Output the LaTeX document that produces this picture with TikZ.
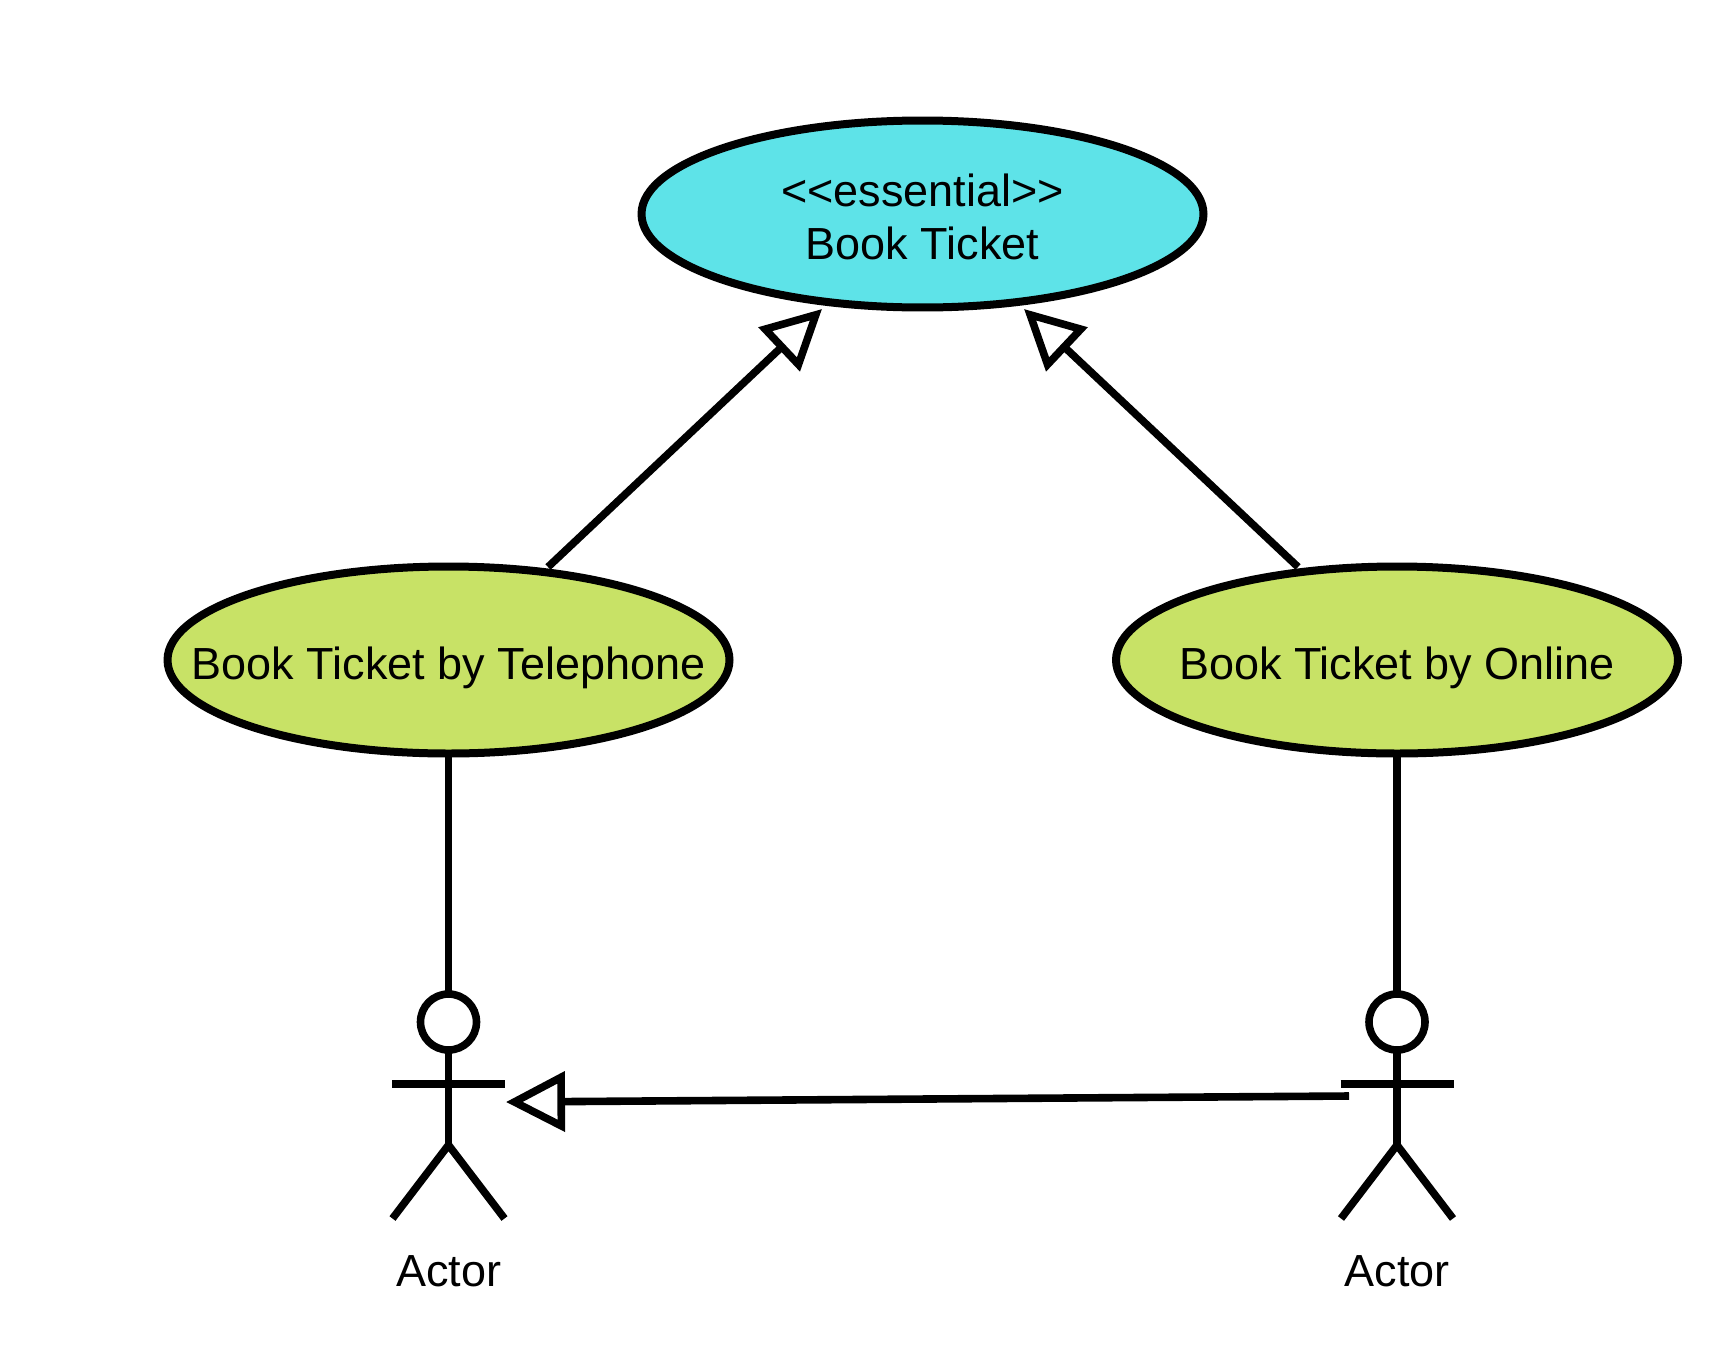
\documentclass[tikz,border=0pt]{standalone}
\usepackage{fontspec}
\setmainfont{Liberation Sans}
\usetikzlibrary{arrows.meta,shapes.geometric,calc}
\definecolor{cyanfill}{HTML}{5EE3E8}
\definecolor{limefill}{HTML}{C8E266}
\tikzset{
  x=0.05cm,y=-0.05cm,
  heavy/.style={line width=0.38cm,black},
  usecase/.style={ellipse,draw=black,line width=0.4cm,minimum width=28.1cm,minimum height=9.35cm,inner sep=0,outer sep=0},
  txt/.style={anchor=base,inner sep=0,outer sep=0,font=\fontsize{64pt}{80pt}\selectfont,align=center},
  head/.style={circle,draw=black,fill=white,line width=0.38cm,minimum size=2.8cm,inner sep=0,outer sep=0},
  gen/.style={heavy,-{Triangle[open,fill=white,length=2.95cm,width=2.95cm,line width=0.38cm]}},
}
\newcommand{\stickman}[2]{%
  \node[head] (#2h) at (#1,1022) {};
  \coordinate (#2hip) at (#1,1145);
  \coordinate (#2al) at ($(#1,1084)+(-56.5,0)$);
  \coordinate (#2ar) at ($(#1,1084)+(56.5,0)$);
  \coordinate (#2ll) at ($(#1,1218.5)+(-56,0)$);
  \coordinate (#2lr) at ($(#1,1218.5)+(56,0)$);
  \draw[heavy] (#2h.south) -- (#2hip);
  \draw[heavy] (#2al) -- (#2ar);
  \draw[heavy] (#2ll) -- (#2hip) -- (#2lr);
  \node[txt] (#2t) at (#1,1286) {Actor};
}
\begin{document}
\begin{tikzpicture}
\useasboundingbox (0,0) rectangle (1713,1357);
\node[usecase,fill=cyanfill] (top) at (922.5,214) {};
\node[usecase,fill=limefill] (tel) at (448.5,660) {};
\node[usecase,fill=limefill] (onl) at (1397,660) {};
\node[txt] (topa) at (922.5,206) {{<}{<}essential{>}{>}};
\node[txt] (topb) at (922.5,259) {Book Ticket};
\node[txt] (telt) at (448.5,679) {Book Ticket by Telephone};
\node[txt] (onlt) at (1397,679) {Book Ticket by Online};
\stickman{448.5}{a}
\stickman{1397}{b}
\draw[heavy] (tel.south) -- (ah.north);
\draw[heavy] (onl.south) -- (bh.north);
\coordinate (s1) at (548,567);
\coordinate (e1) at (822,309);
\coordinate (s2) at (1298,567);
\coordinate (e2) at (1024,309);
\coordinate (s3) at (1349,1096);
\coordinate (e3) at (506,1102);
\draw[gen] (s1) -- (e1);
\draw[gen] (s2) -- (e2);
\draw[gen] (s3) -- (e3);
\end{tikzpicture}
\end{document}
